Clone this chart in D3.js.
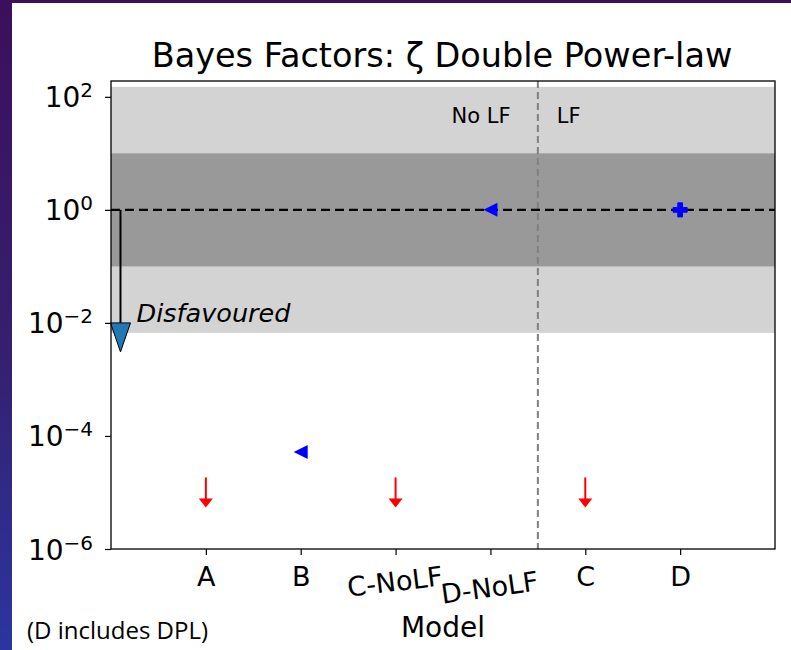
<!DOCTYPE html>
<html>
<head>
<meta charset="utf-8">
<script src="https://cdnjs.cloudflare.com/ajax/libs/d3/7.8.5/d3.min.js"></script>
<style>
body { margin:0; padding:0; }
svg { display:block; font-family:'DejaVu Sans', sans-serif; }
.tick line { stroke:#000; stroke-width:1.2; }
.domain { display:none; }
</style>
</head>
<body>
<svg id="viewer"></svg>
<script>
// model names along the x axis
var models = ['A','B','C-NoLF','D-NoLF','C','D'];
// Bayes factor of each model
var bayesFactors = [1e-5, 5.2e-5, 1e-5, 1, 1e-5, 1];
// marker kind: upper limit arrow, left triangle, filled plus
var markerKinds = ['uplim','tri','uplim','tri','uplim','plus'];
// y ticks (decade exponents)
var yTickPowers = [-6,-4,-2,0,2];
// Jeffreys bands
var strongBand = [1/150, 150];
var weakBand = [0.1, 10];

var W = 791, H = 650;

var viewer = d3.select('#viewer')
  .attr('width',W)
  .attr('height',H);

var defs = viewer.append('defs');
var grad = defs.append('linearGradient')
  .attr('id','bg')
  .attr('x1',0).attr('y1',0).attr('x2',0).attr('y2',1);
grad.append('stop').attr('offset','0%').attr('stop-color','#3c0f5c');
grad.append('stop').attr('offset','55%').attr('stop-color','#35206f');
grad.append('stop').attr('offset','100%').attr('stop-color','#2b35a0');

viewer.append('rect')
  .attr('width',W).attr('height',H)
  .attr('fill','url(#bg)');
viewer.append('rect')
  .attr('x',12).attr('y',3)
  .attr('width',W-12).attr('height',H-3)
  .attr('fill','#fff');

var plotLeft = 111, plotRight = 775, plotTop = 81, plotBottom = 549;

var x = d3.scaleLinear()
  .domain([0, models.length+1])
  .range([plotLeft,plotRight]);

var y = d3.scaleLog()
  .domain([1e-6, Math.pow(10,2.28)])
  .range([plotBottom,plotTop]);

var plot = viewer.append('g');

// bands
plot.append('rect')
  .attr('x',plotLeft).attr('width',plotRight-plotLeft)
  .attr('y',y(strongBand[1]))
  .attr('height',y(strongBand[0])-y(strongBand[1]))
  .attr('fill','#d3d3d3');
plot.append('rect')
  .attr('x',plotLeft).attr('width',plotRight-plotLeft)
  .attr('y',y(weakBand[1]))
  .attr('height',y(weakBand[0])-y(weakBand[1]))
  .attr('fill','#999999');

// LF divider
plot.append('line')
  .attr('x1',x(4.5)).attr('x2',x(4.5))
  .attr('y1',plotTop).attr('y2',plotBottom)
  .attr('stroke','#808080')
  .attr('stroke-width',2)
  .attr('stroke-dasharray','7,4');

// unity line
plot.append('line')
  .attr('x1',plotLeft).attr('x2',plotRight)
  .attr('y1',y(1)).attr('y2',y(1))
  .attr('stroke','#000')
  .attr('stroke-width',2.4)
  .attr('stroke-dasharray','9,5');

// disfavoured arrow
plot.append('line')
  .attr('x1',x(0.1)).attr('x2',x(0.1))
  .attr('y1',y(1)).attr('y2',y(0.01))
  .attr('stroke','#000')
  .attr('stroke-width',2);
plot.append('path')
  .attr('d','M'+(x(0.1)-10)+','+y(0.01)+'L'+(x(0.1)+10)+','+y(0.01)+'L'+x(0.1)+','+(y(0.01)+29)+'Z')
  .attr('fill','#1f77b4')
  .attr('stroke','#000')
  .attr('stroke-width',1);

plot.append('text')
  .attr('x',x(0.27)).attr('y',y(0.0105))
  .attr('font-size',25.5)
  .attr('font-style','italic')
  .text('Disfavoured');

plot.append('text')
  .attr('x',x(3.59)).attr('y',y(Math.pow(10,1.54)))
  .attr('font-size',21)
  .text('No LF');
plot.append('text')
  .attr('x',x(4.7)).attr('y',y(Math.pow(10,1.54)))
  .attr('font-size',21)
  .text('LF');

// markers
var points = plot.selectAll('.pt')
  .data(models.map(function(m,i){return {name:m, value:bayesFactors[i], kind:markerKinds[i], pos:i+1};}))
  .enter().append('g')
    .attr('class','pt')
    .attr('transform',function(d){return 'translate('+x(d.pos)+','+y(d.value)+')';});

points.filter(function(d){return d.kind=='uplim';}).append('line')
  .attr('x1',0).attr('x2',0)
  .attr('y1',-15).attr('y2',8)
  .attr('stroke','#f00')
  .attr('stroke-width',2);
points.filter(function(d){return d.kind=='uplim';}).append('path')
  .attr('d','M-7,6L7,6L0,15Z')
  .attr('fill','#f00');

points.filter(function(d){return d.kind=='tri';}).append('path')
  .attr('d','M-7,0L7,-7L7,7Z')
  .attr('fill','#00f');

points.filter(function(d){return d.kind=='plus';}).append('path')
  .attr('d',d3.symbol().type(d3.symbolCross).size(110))
  .attr('fill','#00f')
  .attr('stroke','#00f')
  .attr('stroke-width',1)
  .attr('stroke-linejoin','round');

// frame
viewer.append('rect')
  .attr('x',plotLeft).attr('y',plotTop)
  .attr('width',plotRight-plotLeft).attr('height',plotBottom-plotTop)
  .attr('fill','none')
  .attr('stroke','#000')
  .attr('stroke-width',1.3);

// y axis
var yAxis = viewer.append('g')
  .attr('transform','translate('+plotLeft+',0)')
  .call(d3.axisLeft(y)
    .tickValues(yTickPowers.map(function(p){return Math.pow(10,p);}))
    .tickSize(6)
    .tickPadding(12)
    .tickFormat(''));
yAxis.attr('font-family','DejaVu Sans');

yAxis.selectAll('.tick text')
  .attr('fill','#000')
  .attr('font-size',28)
  .attr('dy',10)
  .each(function(d,i){
    var t = d3.select(this);
    var p = yTickPowers[i];
    t.append('tspan').text('10');
    t.append('tspan')
      .attr('dy',-10)
      .attr('font-size',20)
      .text(p<0 ? '\u2212'+(-p) : ''+p);
  });

// x axis
var xAxis = viewer.append('g')
  .attr('transform','translate(0,'+plotBottom+')')
  .call(d3.axisBottom(x)
    .tickValues(models.map(function(m,i){return i+1;}))
    .tickSize(6)
    .tickFormat(function(d){return models[d-1];}));
xAxis.attr('font-family','DejaVu Sans');

xAxis.selectAll('.tick text')
  .attr('fill','#000')
  .attr('font-size',27)
  .attr('y',function(d){
    var m = models[d-1];
    if (m=='C-NoLF') return 42;
    if (m=='D-NoLF') return 48;
    return 37;
  })
  .attr('dy',0)
  .attr('transform',function(d){
    var m = models[d-1];
    if (m=='C-NoLF') return 'rotate(-7,0,42)';
    if (m=='D-NoLF') return 'rotate(-8,0,48)';
    return null;
  });

viewer.append('text')
  .attr('x',(plotLeft+plotRight)/2).attr('y',637)
  .attr('text-anchor','middle')
  .attr('font-size',28)
  .text('Model');

viewer.append('text')
  .attr('x',442).attr('y',67)
  .attr('text-anchor','middle')
  .attr('font-size',33.5)
  .text('Bayes Factors: \u03b6 Double Power-law');

viewer.append('text')
  .attr('x',27).attr('y',639)
  .attr('font-family','Open Sans')
  .attr('font-size',24)
  .text('(D includes DPL)');
</script>
</body>
</html>
